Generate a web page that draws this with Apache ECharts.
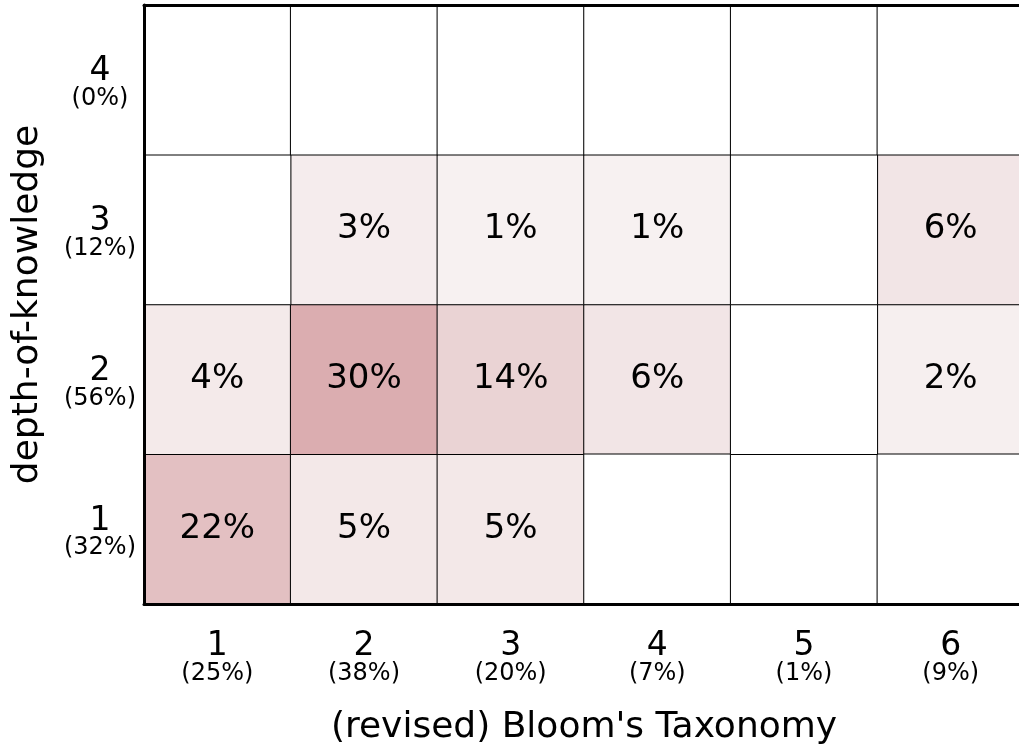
<!DOCTYPE html>
<html><head><meta charset="utf-8">
<script src="https://cdn.jsdelivr.net/npm/echarts@6/dist/echarts.min.js"></script>
<style>html,body{margin:0;padding:0;background:#fff}#c{width:1019px;height:744px}</style>
</head><body><div id="c"></div>
<script>
const bloomLevels = ['1','2','3','4','5','6'];
const bloomShares = ['25%','38%','20%','7%','1%','9%'];
const dokLevels = ['1','2','3','4'];
const dokShares = ['32%','56%','12%','0%'];
// rows: depth-of-knowledge 1..4, columns: Bloom 1..6 (percent)
const dok1 = [22, 5, 5, 0, 0, 0];
const dok2 = [4, 30, 14, 6, 0, 2];
const dok3 = [0, 3, 1, 1, 0, 6];
const dok4 = [0, 0, 0, 0, 0, 0];
const rows = [dok1, dok2, dok3, dok4];

const filled = [], empty = [];
rows.forEach((r, yi) => r.forEach((v, xi) => (v > 0 ? filled : empty).push([xi, yi, v])));

const chart = echarts.init(document.getElementById('c'));
const FONT = 'DejaVu Sans';
chart.setOption({
  animation: false,
  backgroundColor: '#fff',
  grid: { left: 144, top: 5, width: 880, height: 599, containLabel: false, outerBoundsMode: 'none' },
  visualMap: {
    show: false, type: 'continuous', min: 1, max: 30, dimension: 2, seriesIndex: 0,
    inRange: { color: ['#f7f1f1', '#dbadb0'] }
  },
  xAxis: [{
    type: 'category', data: bloomLevels, position: 'bottom', z: 10,
    axisLine: { lineStyle: { color: '#000', width: 3 } },
    axisTick: { show: false }, splitLine: { show: false },
    axisLabel: {
      margin: 27, fontFamily: FONT, color: '#000',
      formatter: (v, i) => '{a|' + v + '}\n{b|(' + bloomShares[i] + ')}',
      rich: { a: { fontSize: 33, fontFamily: FONT, color: '#000', lineHeight: 30 },
              b: { fontSize: 24, fontFamily: FONT, color: '#000', lineHeight: 26 } }
    },
    name: "(revised) Bloom's Taxonomy", nameLocation: 'middle', nameGap: 106,
    nameTextStyle: { fontSize: 36, fontFamily: FONT, color: '#000' }
  }, {
    type: 'category', data: bloomLevels, position: 'top', z: 10,
    axisLine: { lineStyle: { color: '#000', width: 3 } },
    axisTick: { show: false }, axisLabel: { show: false }
  }],
  yAxis: {
    type: 'category', data: dokLevels, z: 10,
    axisLine: { lineStyle: { color: '#000', width: 3 } },
    axisTick: { show: false }, splitLine: { show: false },
    axisLabel: {
      margin: 44, align: 'center', fontFamily: FONT, color: '#000', padding: [10, 0, 0, 0],
      formatter: (v, i) => '{a|' + v + '}\n{b|(' + dokShares[i] + ')}',
      rich: { a: { fontSize: 33, fontFamily: FONT, color: '#000', lineHeight: 28, align: 'center' },
              b: { fontSize: 24, fontFamily: FONT, color: '#000', lineHeight: 26, align: 'center' } }
    },
    name: 'depth-of-knowledge', nameLocation: 'middle', nameGap: 98, nameRotate: 90,
    nameTextStyle: { fontSize: 36, fontFamily: FONT, color: '#000' }
  },
  series: [{
    type: 'heatmap', data: filled,
    itemStyle: { borderColor: '#000', borderWidth: 1 },
    label: {
      show: true, fontSize: 34, fontFamily: FONT, color: '#000',
      formatter: p => p.value[2] + '%'
    },
    emphasis: { disabled: true }
  }, {
    type: 'heatmap', data: empty,
    itemStyle: { color: '#ffffff', borderColor: '#000', borderWidth: 1 },
    label: { show: false },
    emphasis: { disabled: true }
  }]
});
</script></body></html>
